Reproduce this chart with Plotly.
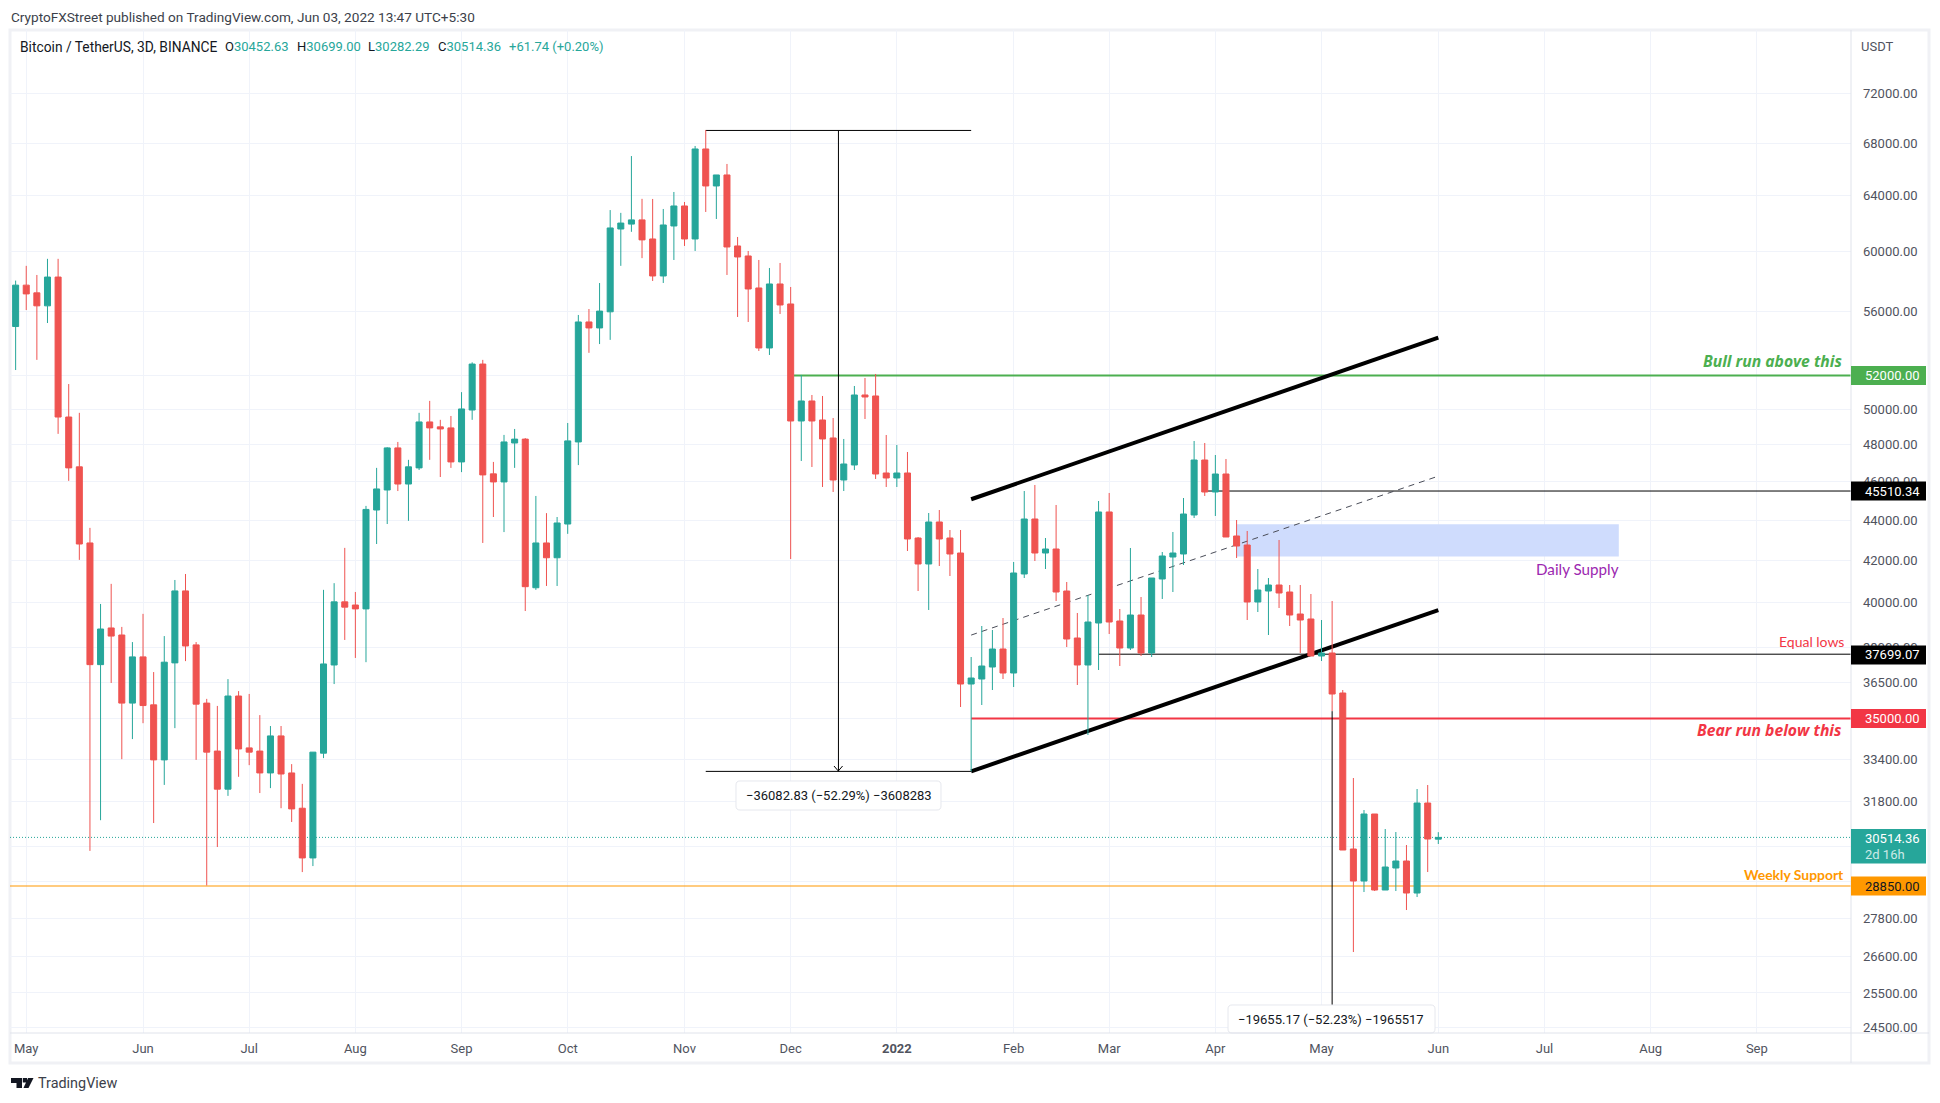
import math
import pandas as pd
import plotly.graph_objects as go

# 3D candles
opens = [55025,57718,57206,56355,58258,49568,46799,42863,37247,38858,38543,35630,37582,35558,33370,37323,40555,38106,35630,33711,32261,35922,33835,33711,32871,34306,32871,31559,29799,33629,37232,40046,39900,39722,44525,45565,47833,45880,46742,49288,49009,48950,47065,49971,52693,46421,45991,48105,48320,40704,42863,42137,43810,48163,55316,54936,55969,61580,61930,62232,60876,58331,61797,63240,60876,67540,64717,65544,60387,59694,57529,53680,57795,56476,49342,50495,49399,48384,46094,46899,50845,50787,46468,46201,46468,43109,41835,43913,43109,42369,36424,36635,37146,37925,36889,41355,44065,42369,42565,40551,38410,37232,39081,44423,39171,37969,39443,37751,41117,42174,42321,44269,47170,45460,46414,43209,42762,40040,40551,40833,40504,39489,39262,37620,37751,36048,30108,29016,31349,28716,29455,29694,28617,31749,30452.63]
highs = [58022,59017,58399,59497,59497,51491,49809,43616,39949,40887,38905,38230,39496,36930,38496,41070,41355,38230,35805,35514,36630,36127,36009,35140,34700,34700,33207,32459,33670,40605,40920,42620,40506,44736,46742,47872,48163,47179,49809,50500,49408,49628,51013,52799,52949,47065,48555,48890,48378,45252,44364,44166,49228,55765,56150,57858,62941,62738,66990,63762,63753,63021,64270,63532,67774,69038,65544,66381,61017,60039,59419,58872,59213,57595,52033,50845,50787,49513,48328,51376,51853,52093,48551,47994,47608,43159,44371,44525,43509,43509,37577,38946,38766,39307,41932,45512,45829,43109,44783,40975,39535,40364,44990,45408,39717,42615,40271,41164,42418,43409,45146,48216,48105,47443,47225,44014,43459,41594,41164,43010,40833,40833,40411,39216,40086,36173,32679,31494,31349,30811,30704,30247,32267,32416,30699.00]
lows = [52331,56082,52949,55248,48614,46047,42034,30042,31126,36467,33397,34181,34813,31024,32419,34615,37399,33370,28867,30177,32012,32724,33167,32117,32300,31559,31062,29317,29521,33438,36422,38324,37536,37353,42811,43810,45510,43970,46629,47179,46253,46742,46515,49408,42863,44166,43404,46742,39625,40605,40787,40787,43316,46894,53380,53923,54185,59017,61381,59545,57996,57862,59419,60387,60039,62803,62298,58399,55635,55315,53494,53248,55828,42077,47116,46791,45723,45460,45512,46629,49456,46147,45723,45723,42467,40551,39672,41738,41259,35470,32931,35552,36173,36635,36298,41164,41980,41594,40086,38013,36382,34342,37017,38588,37189,37882,37620,37577,40179,40504,41787,44116,45251,44218,43159,42126,39216,39580,38543,39763,38946,37751,37620,37404,35306,30073,26733,28650,28683,28716,28683,28061,28485,29319,30282.29]
closes = [57718,57136,56355,58258,49568,46742,42811,37247,38811,38496,35630,37582,35529,33370,37353,40555,38059,35587,33670,32261,35922,33794,33670,32871,34306,32831,31534,29799,33670,37277,40046,39803,39722,44554,45620,47833,45880,46799,49288,48950,48890,47065,50032,52693,46365,45991,48163,48320,40754,42863,42137,43863,48222,55316,54936,56014,61655,62005,62232,60812,58331,61868,63240,60876,67540,64717,65544,60317,59625,57463,53680,57795,56411,49342,50495,49342,48328,46094,46953,50845,50728,46414,46201,46468,43060,41835,43913,43060,42321,36424,36677,37189,37925,36889,41403,44065,42369,42565,40504,38366,37232,39126,44423,39126,37969,39443,37751,41164,42223,42369,44320,47170,45460,46414,43159,42713,40040,40598,40833,40458,39443,39216,37620,37751,36006,30073,29016,31349,28716,29489,29694,28617,31749,30457,30514.36]
bars = pd.date_range("2021-04-27", periods=len(opens), freq="3D")

month_ticks = ["2021-04-30","2021-06-02","2021-07-02","2021-08-01","2021-08-31","2021-09-30","2021-11-02","2021-12-02","2022-01-01","2022-02-03","2022-03-02","2022-04-01","2022-05-01","2022-06-03","2022-07-03","2022-08-02","2022-09-01"]
month_labels = ["May","Jun","Jul","Aug","Sep","Oct","Nov","Dec","<b>2022</b>","Feb","Mar","Apr","May","Jun","Jul","Aug","Sep"]
price_ticks = [72000,68000,64000,60000,56000,52000,50000,48000,46000,44000,42000,40000,38000,36500,35000,33400,31800,30200,29000,27800,26600,25500,24500]
# these sit fully under a price tag, only their grid line shows
covered_ticks = [52000,35000,30200,29000]

GREEN = "#26a69a"
RED = "#ef5350"
TEXT = "#131722"
AXIS_TEXT = "#50535e"
FONT = "Roboto"
DRAW_FONT = "Lato"

# the plot area in page pixels, everything outside it is placed by these
LEFT, RIGHT, TOP, BOTTOM = 10, 1851, 30, 1033

def fx(px):
    return (px - LEFT) / (RIGHT - LEFT)

def fy(py):
    return (BOTTOM - py) / (BOTTOM - TOP)

def at(bar):
    return str(bars[0] + pd.Timedelta(days=3 * bar))

x_start = at(-0.53)
x_end = at(172.87)

fig = go.Figure(go.Candlestick(
    x=bars, open=opens, high=highs, low=lows, close=closes,
    whiskerwidth=0, hoverinfo="skip",
    increasing=dict(line=dict(color=GREEN, width=1), fillcolor=GREEN),
    decreasing=dict(line=dict(color=RED, width=1), fillcolor=RED),
))

fig.update_layout(
    width=1940, height=1103, autosize=False, boxgap=0.19,
    margin=dict(l=LEFT, r=1940 - RIGHT, t=TOP, b=1103 - BOTTOM),
    paper_bgcolor="white", plot_bgcolor="white", showlegend=False,
    font=dict(family=FONT, size=13, color=AXIS_TEXT),
)
fig.update_xaxes(
    type="date", range=[x_start, x_end], rangeslider_visible=False,
    tickmode="array", tickvals=month_ticks, ticktext=month_labels,
    showgrid=True, gridcolor="#f0f3fa", gridwidth=1, zeroline=False,
    ticks="", ticklabelstandoff=6, tickfont=dict(family=FONT, size=13, color=AXIS_TEXT),
)
fig.update_yaxes(
    type="log", side="right", range=[math.log10(24348), math.log10(77480)],
    tickmode="array", tickvals=price_ticks,
    ticktext=["" if v in covered_ticks else "%.2f" % v for v in price_ticks],
    showgrid=True, gridcolor="#f0f3fa", gridwidth=1, zeroline=False,
    ticks="", ticklabelstandoff=11, tickfont=dict(family=FONT, size=13, color=AXIS_TEXT),
)

def line(x0, y0, x1, y1, color="black", width=1, dash="solid"):
    fig.add_shape(type="line", xref="x", yref="y", x0=x0, y0=y0, x1=x1, y1=y1,
                  line=dict(color=color, width=width, dash=dash), layer="between")

# supply zone
fig.add_shape(type="rect", xref="x", yref="y", x0=at(115), x1=at(151), y0=42200, y1=43800,
              fillcolor="#cfdcfd", line_width=0, layer="between")

# price levels
line(x_start, 30514.36, x_end, 30514.36, GREEN, 1, "1px,2px")
line(x_start, 28850, x_end, 28850, "#ff9800", 1.2)
line(at(73.3), 52000, x_end, 52000, "#4caf50", 2)
line(at(90), 35000, x_end, 35000, "#f23645", 2)
line(at(112.3), 45510.34, x_end, 45510.34)
line(at(102), 37699.07, x_end, 37699.07)

# channel
line(at(90), 45080, at(134), 54320, "black", 4)
line(at(90), 32930, at(134), 39670, "black", 4)
line(at(90), 38540, at(134), 46300, "#4a4d58", 1, "6px,5px")

# measure tools
line(at(65), 69000, at(90), 69000)
line(at(65), 32930, at(90), 32930)
line(at(77.5), 69000, at(77.5), 32930)
line(at(124), 35300, at(124), 25110)

def page_path(d, **kw):
    fig.add_shape(type="path", xref="paper", yref="paper", path=d, **kw)

def pts(*xy):
    return " ".join("%s %.5f %.5f" % (c, fx(x), fy(y)) for c, x, y in xy)

def page_rect(x0, y0, x1, y1, fill, line_color=None, width=0, layer="above"):
    fig.add_shape(type="rect", xref="paper", yref="paper", x0=fx(x0), x1=fx(x1), y0=fy(y0), y1=fy(y1),
                  fillcolor=fill, line=dict(color=line_color or fill, width=width), layer=layer)

def rounded(x0, y0, x1, y1, r=4):
    page_path(pts(("M", x0 + r, y0), ("L", x1 - r, y0), ("Q", x1, y0)) + " %.5f %.5f " % (fx(x1), fy(y0 + r))
              + pts(("L", x1, y1 - r), ("Q", x1, y1)) + " %.5f %.5f " % (fx(x1 - r), fy(y1))
              + pts(("L", x0 + r, y1), ("Q", x0, y1)) + " %.5f %.5f " % (fx(x0), fy(y1 - r))
              + pts(("L", x0, y0 + r), ("Q", x0, y0)) + " %.5f %.5f Z" % (fx(x0 + r), fy(y0)),
              fillcolor="white", line=dict(color="#e6e8ee", width=1))

def label(text, px, py, color=TEXT, size=13, anchor="left", family=FONT):
    fig.add_annotation(text=text, xref="paper", yref="paper", x=fx(px), y=fy(py),
                       xanchor=anchor, yanchor="middle", showarrow=False,
                       font=dict(family=family, size=size, color=color))

# arrow head of the long measure
page_path(pts(("M", 834, 766), ("L", 838.3, 771), ("L", 842.6, 766)), line=dict(color="black", width=1))

rounded(736, 781, 941, 810)
label("\u221236082.83 (\u221252.29%) \u22123608283", 838.5, 795, TEXT, 13, "center")
rounded(1228, 1005, 1435, 1033)
label("\u221219655.17 (\u221252.23%) \u22121965517", 1331, 1019.5, TEXT, 13, "center")

# outer frame and axis separators
page_rect(10, 30, 1929, 1063, "rgba(0,0,0,0)", "#f0f1f5", 3, "below")
fig.add_shape(type="line", xref="paper", yref="paper", x0=fx(RIGHT), x1=fx(RIGHT), y0=fy(30), y1=fy(1063),
              line=dict(color="#e0e3eb", width=1))
fig.add_shape(type="line", xref="paper", yref="paper", x0=fx(10), x1=fx(1929), y0=fy(BOTTOM), y1=fy(BOTTOM),
              line=dict(color="#e0e3eb", width=1))

# price tags on the axis
tags = [("52000.00", 375.5, "#4caf50", "white"), ("45510.34", 491, "black", "white"),
        ("37699.07", 655, "black", "white"), ("35000.00", 718.5, "#f23645", "white"),
        ("28850.00", 886, "#ff9800", TEXT)]
for txt, y, fill, col in tags:
    page_rect(RIGHT, y - 9.5, 1926, y + 9.5, fill)
    label(txt, 1862.5, y, col)
page_rect(RIGHT, 829, 1926, 863.5, GREEN)
label("30514.36", 1862.5, 838, "white")
label("2d 16h", 1862.5, 854, "#cdeae7", 13)
label("USDT", 1858.5, 46.5, AXIS_TEXT)

# drawings text
label("<b><i>Bull run above this</i></b>", 1844, 361, "#4caf50", 15.7, "right", "Open Sans")
label("<b><i>Bear run below this</i></b>", 1844, 730, "#f23645", 15.7, "right", "Open Sans")
label("Equal lows", 1846, 642, "#f23645", 14, "right", DRAW_FONT)
label("<b>Weekly Support</b>", 1846, 874.5, "#ff9800", 13.9, "right", DRAW_FONT)
label("Daily Supply", 1621, 569, "#9c27b0", 15.2, "right", DRAW_FONT)

# header and legend
label("CryptoFXStreet published on TradingView.com, Jun 03, 2022 13:47 UTC+5:30", 9, 17, "#3c3f4a", 13.6)
label("Bitcoin / TetherUS, 3D, BINANCE", 18, 47, TEXT, 13.8)
for head, val, px in [("O", "30452.63", 223), ("H", "30699.00", 294.5), ("L", "30282.29", 366), ("C", "30514.36", 436)]:
    label('%s<span style="color:%s">%s</span>' % (head, GREEN, val), px, 47, TEXT, 13)
label("+61.74 (+0.20%)", 507, 47, GREEN, 13)

# TradingView mark and name
page_path(pts(("M", 11, 1078), ("L", 22, 1078), ("L", 22, 1088), ("L", 16.5, 1088), ("L", 16.5, 1083), ("L", 11, 1083)) + " Z",
          fillcolor="#131722", line_width=0)
page_path(pts(("M", 22.8, 1078), ("L", 27, 1078), ("L", 27, 1082.5), ("L", 22.8, 1082.5)) + " Z",
          fillcolor="#131722", line_width=0)
page_path(pts(("M", 28, 1078), ("L", 33.5, 1078), ("L", 28.5, 1088), ("L", 23.5, 1088)) + " Z",
          fillcolor="#131722", line_width=0)
label("TradingView", 35.5, 1083.5, "#3c3f4a", 14.4)

fig.write_html("out.html", config=dict(displayModeBar=False),
               post_script="document.body.style.margin='0';document.body.style.overflow='hidden';")
